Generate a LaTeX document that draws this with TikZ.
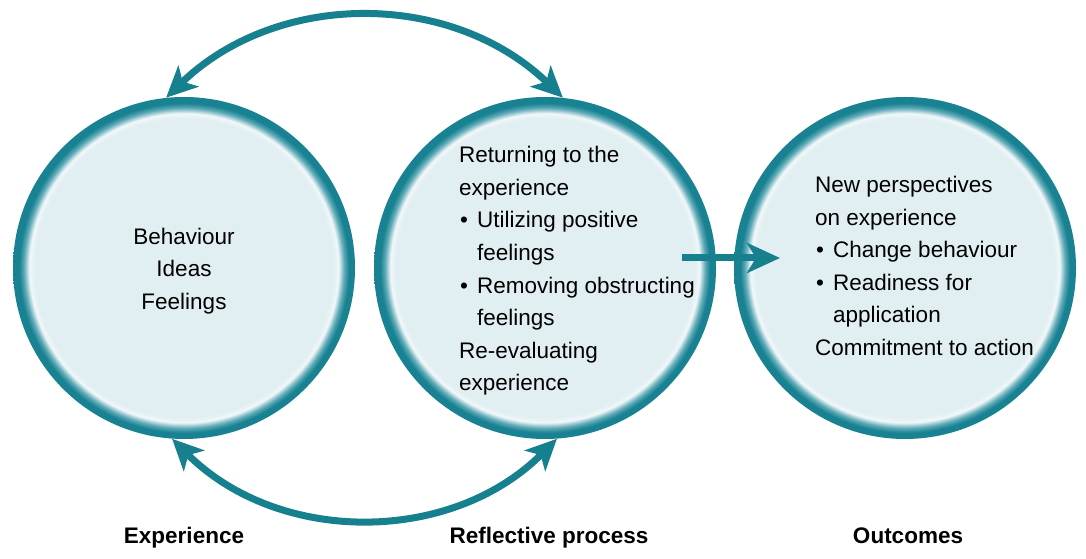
\documentclass[tikz,border=0pt]{standalone}
\usepackage{xcolor}
\usepackage{fontspec}
\setmainfont{Liberation Sans}
\usetikzlibrary{positioning,arrows.meta}
\definecolor{tealdark}{RGB}{22,128,143}
\definecolor{tealrim}{RGB}{24,130,146}
\definecolor{tealmid}{RGB}{95,170,183}
\definecolor{circfill}{RGB}{226,239,242}
\definecolor{circhigh}{RGB}{240,247,249}
\pgfdeclareradialshading{rimshade}{\pgfpoint{0bp}{0bp}}{%
  color(0bp)=(circfill); color(21.9bp)=(circfill); color(22.6bp)=(circhigh);
  color(23.4bp)=(tealmid); color(24.1bp)=(tealrim); color(25bp)=(tealrim);
  color(50bp)=(tealrim)}
\newcommand{\blt}{\makebox[18pt][l]{\hspace{1pt}\textbullet}}
\newcommand{\cont}{\hspace*{18pt}}
\tikzset{
  phase/.style={circle, minimum size=342pt, inner sep=0pt, shading=rimshade},
  body/.style={font=\fontsize{22.5pt}{32.6pt}\selectfont, align=left, inner sep=0pt},
  stagelbl/.style={font=\fontsize{22.5pt}{27pt}\selectfont\bfseries, inner sep=0pt, anchor=base},
}

\begin{document}
\begin{tikzpicture}[
  x=1pt, y=1pt,
  flow/.style={-{Stealth[length=33pt, width=30pt, inset=9pt]}, line width=7pt, tealdark},
  cyclearc/.style={{Stealth[length=31pt, width=29pt, inset=8pt]}-{Stealth[length=31pt, width=29pt, inset=8pt]},
                line width=7pt, tealdark},
]
  \useasboundingbox (0,0) rectangle (1086,559);

  % Phase circles
  \node[phase] (c1) at (184,291) {};
  \node[phase] (c2) at (545,291) {};
  \node[phase] (c3) at (905,291) {};

  % Circle texts
  \node[body, align=center] (t1) at ([yshift=-3pt]c1.center) {Behaviour\\Ideas\\Feelings};
  \node[body, anchor=west] (t2) at ([shift={(-86pt,-3pt)}]c2.center)
    {Returning to the\\experience\\\blt Utilizing positive\\\cont feelings\\
     \blt Removing obstructing\\\cont feelings\\Re-evaluating\\experience};
  \node[body, anchor=west] (t3) at ([shift={(-90pt,2pt)}]c3.center)
    {New perspectives\\on experience\\\blt Change behaviour\\\blt Readiness for\\
     \cont application\\Commitment to action};

  % Captions
  \node[stagelbl] (l1) at ([yshift=-275pt]c1.center) {Experience};
  \node[stagelbl] (l2) at ([shift={(4pt,-275pt)}]c2.center) {Reflective process};
  \node[stagelbl] (l3) at ([shift={(3pt,-275pt)}]c3.center) {Outcomes};

  % Arrows
  \draw[cyclearc] (c1.96) to[bend left=44] (c2.84);
  \draw[cyclearc] (c1.266) to[bend right=45] (c2.274);
  \draw[flow] ([shift={(137pt,10pt)}]c2.center) -- ([shift={(-125pt,10pt)}]c3.center);

\end{tikzpicture}
\end{document}
